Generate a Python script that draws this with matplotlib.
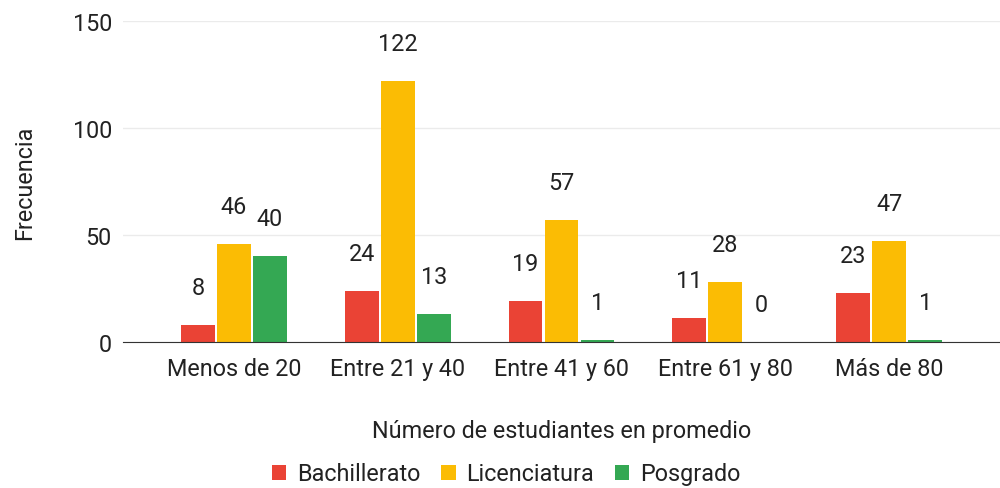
import matplotlib
matplotlib.use('Agg')
import matplotlib.pyplot as plt
import numpy as np

plt.rcParams['font.family'] = ['Roboto', 'DejaVu Sans']

categorias = ['Menos de 20', 'Entre 21 y 40', 'Entre 41 y 60', 'Entre 61 y 80', 'Más de 80']
series = ['Bachillerato', 'Licenciatura', 'Posgrado']
bachillerato = [8, 24, 19, 11, 23]
licenciatura = [46, 122, 57, 28, 47]
posgrado = [40, 13, 1, 0, 1]
colores = ['#ea4335', '#fbbc04', '#34a853']

fs = 16.8
fig = plt.figure(figsize=(10, 4.89), dpi=100)
ax = fig.add_axes([0.123, 1 - 343 / 489, 0.877, (343 - 22) / 489])

x = np.arange(len(categorias))
ancho = 0.207
offsets = [-0.22, 0, 0.22]

for vals, off, col, nombre in zip([bachillerato, licenciatura, posgrado], offsets, colores, series):
    ax.bar(x + off, vals, ancho, color=col, label=nombre, zorder=3)
    for xi, v in zip(x + off, vals):
        ax.annotate(str(v), (xi, v), xytext=(0, 27), textcoords='offset points',
                    ha='center', va='center', fontsize=fs, color='#222222', zorder=4)

ax.set_xlim(-0.677, 4.677)
ax.set_ylim(0, 150)
ax.set_yticks([0, 50, 100, 150])
ax.set_xticks(x)
ax.set_xticklabels(categorias)
ax.tick_params(axis='both', length=0, labelsize=fs, labelcolor='#222222')
ax.tick_params(axis='y', pad=8)
ax.tick_params(axis='x', pad=11)

ax.grid(axis='y', color='#ebebeb', linewidth=1, zorder=0)
for s in ['top', 'right', 'left']:
    ax.spines[s].set_visible(False)
ax.spines['bottom'].set_color('#333333')
ax.spines['bottom'].set_zorder(5)

ax.set_xlabel('Número de estudiantes en promedio', fontsize=fs, color='#222222', labelpad=28)
ax.set_ylabel('Frecuencia', fontsize=fs, color='#222222')
ax.yaxis.set_label_coords(-0.099, 0.5)

leg = fig.legend(loc='center', bbox_to_anchor=(0.506, 1 - 475 / 489), ncol=3, frameon=False,
                 fontsize=fs, handlelength=0.62, handleheight=0.62, handletextpad=0.45,
                 columnspacing=0.9)
for t in leg.get_texts():
    t.set_color('#222222')

fig.savefig('out.png', dpi=100)
